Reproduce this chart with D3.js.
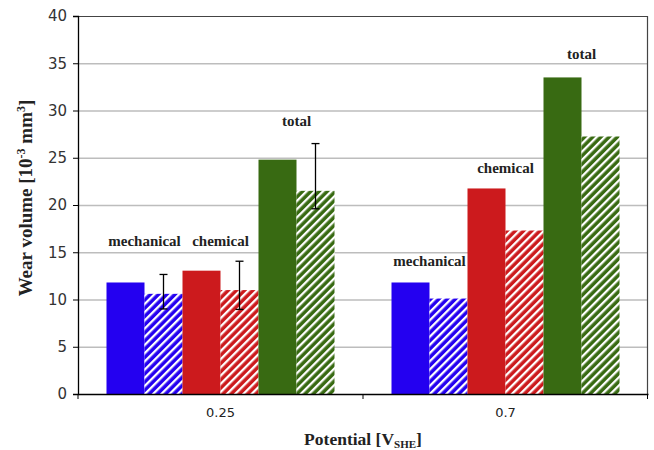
<!DOCTYPE html>
<html>
<head>
<meta charset="utf-8">
<script src="https://cdn.jsdelivr.net/npm/d3@7/dist/d3.min.js"></script>
<style>
  html, body { margin: 0; padding: 0; background: #fff; }
  svg { display: block; }
</style>
</head>
<body>
<svg id="chart" width="654" height="450"></svg>
<script>
// ---- data ----
const categories = ["0.25", "0.7"];
const series = ["mechSolid", "mechHatched", "chemSolid", "chemHatched", "totalSolid", "totalHatched"];
const seriesColor = ["#2400f0", "#2400f0", "#cc1a1d", "#cc1a1d", "#386a12", "#386a12"];
const seriesHatched = [false, true, false, true, false, true];
const values025 = [11.8, 10.6, 13.05, 11.0, 24.8, 21.5];
const values07 = [11.8, 10.1, 21.75, 17.3, 33.5, 27.25];
// error bars (only for 0.25 hatched bars): [series index, low, high]
const errSeries = [1, 3, 5];
const errLow = [9.0, 8.95, 19.6];
const errHigh = [12.65, 14.05, 26.5];
const yTicks = [0, 5, 10, 15, 20, 25, 30, 35, 40];
// group labels: text, category, left series index of the pair, y (in data units)
const labelText = ["mechanical", "chemical", "total", "mechanical", "chemical", "total"];
const labelCat = ["0.25", "0.25", "0.25", "0.7", "0.7", "0.7"];
const labelSeries = [0, 2, 4, 0, 2, 4];
const labelY = [15.7, 15.7, 28.4, 13.5, 23.4, 35.4];

const valuesByCat = { "0.25": values025, "0.7": values07 };

// ---- layout ----
const svg = d3.select("#chart");
const margin = { left: 78, right: 6, top: 16, bottom: 56 };
const W = 654, H = 450;
const x0 = margin.left, x1 = W - margin.right;
const yTop = margin.top, yBot = H - margin.bottom;

const x = d3.scaleBand().domain(categories).range([x0, x1]).paddingInner(0).paddingOuter(0);
const xs = d3.scaleBand().domain(series).range([0, x.bandwidth()]).paddingInner(0).paddingOuter(0.75);
const y = d3.scaleLinear().domain([0, 40]).range([yBot, yTop]);

// hatch patterns
const defs = svg.append("defs");
series.forEach((s, i) => {
  if (!seriesHatched[i]) return;
  const p = defs.append("pattern")
    .attr("id", "hatch" + i)
    .attr("patternUnits", "userSpaceOnUse")
    .attr("width", 5.8).attr("height", 5.8)
    .attr("patternTransform", "rotate(45)");
  p.append("rect").attr("width", 5.8).attr("height", 5.8).attr("fill", seriesColor[i]);
  p.append("rect").attr("x", 0).attr("width", 2.3).attr("height", 5.8).attr("fill", "#fff");
});

// grid lines
svg.append("g").selectAll("line").data(yTicks.filter(t => t > 0 && t < 40)).join("line")
  .attr("x1", x0).attr("x2", x1)
  .attr("y1", d => y(d) + 0.5).attr("y2", d => y(d) + 0.5)
  .attr("stroke", "#bdbdbd").attr("stroke-width", 1.5);

// plot border (top/right)
svg.append("path")
  .attr("d", `M${x0},${yTop + 0.5}H${x1 - 0.5}V${yBot}`)
  .attr("fill", "none").attr("stroke", "#444").attr("stroke-width", 1.2);

// bars
const groups = svg.append("g").selectAll("g").data(categories).join("g")
  .attr("transform", d => `translate(${x(d)},0)`);
groups.selectAll("rect").data(c => valuesByCat[c].map((v, i) => ({ v, i }))).join("rect")
  .attr("x", d => xs(series[d.i]))
  .attr("width", xs.bandwidth())
  .attr("y", d => y(d.v))
  .attr("height", d => y(0) - y(d.v))
  .attr("fill", d => seriesHatched[d.i] ? `url(#hatch${d.i})` : seriesColor[d.i]);

// error bars (category 0.25)
const eg = svg.append("g").attr("stroke", "#000").attr("stroke-width", 1.3);
errSeries.forEach((si, k) => {
  const cx = x("0.25") + xs(series[si]) + xs.bandwidth() / 2;
  eg.append("line").attr("x1", cx).attr("x2", cx).attr("y1", y(errLow[k])).attr("y2", y(errHigh[k]));
  eg.append("line").attr("x1", cx - 4).attr("x2", cx + 4).attr("y1", y(errLow[k])).attr("y2", y(errLow[k]));
  eg.append("line").attr("x1", cx - 4).attr("x2", cx + 4).attr("y1", y(errHigh[k])).attr("y2", y(errHigh[k]));
});

// group labels
svg.append("g").selectAll("text").data(labelText).join("text")
  .attr("x", (d, i) => x(labelCat[i]) + xs(series[labelSeries[i] + 1]))
  .attr("y", (d, i) => y(labelY[i]))
  .attr("text-anchor", "middle")
  .attr("font-family", "'Liberation Serif', serif")
  .attr("font-weight", "bold")
  .attr("font-size", 15)
  .attr("fill", "#222")
  .text(d => d);

// y axis
const yAxis = svg.append("g").attr("transform", `translate(${x0},0)`)
  .call(d3.axisLeft(y).tickValues(yTicks).tickSize(5).tickPadding(6));
yAxis.select(".domain").attr("stroke", "#000").attr("stroke-width", 1.3);
yAxis.selectAll(".tick line").attr("stroke", "#000");
yAxis.selectAll(".tick text").attr("font-family", "'DejaVu Sans', sans-serif").attr("font-size", 15).attr("fill", "#333");

// x axis
const xAxis = svg.append("g").attr("transform", `translate(0,${yBot})`)
  .call(d3.axisBottom(x).tickSize(0).tickPadding(14));
xAxis.select(".domain").attr("stroke", "#000").attr("stroke-width", 1.5);
xAxis.selectAll(".tick text").attr("font-family", "'DejaVu Sans', sans-serif").attr("font-size", 13).attr("fill", "#222");
// category boundary ticks
svg.append("g").selectAll("line").data([x0, x(categories[1]), x1 - 0.5]).join("line")
  .attr("x1", d => d).attr("x2", d => d).attr("y1", yBot).attr("y2", yBot + 5)
  .attr("stroke", "#000").attr("stroke-width", 1);

// axis titles
const yt = svg.append("text")
  .attr("transform", `translate(32,${(yTop + yBot) / 2 - 7}) rotate(-90)`)
  .attr("text-anchor", "middle")
  .attr("font-family", "'Liberation Serif', serif")
  .attr("font-weight", "bold").attr("font-size", 19).attr("fill", "#222");
yt.append("tspan").text("Wear volume [10");
yt.append("tspan").attr("font-size", 12).attr("dy", -7).text("-3");
yt.append("tspan").attr("dy", 7).text(" mm");
yt.append("tspan").attr("font-size", 12).attr("dy", -7).text("3");
yt.append("tspan").attr("dy", 7).text("]");

const xt = svg.append("text")
  .attr("x", (x0 + x1) / 2).attr("y", 445)
  .attr("text-anchor", "middle")
  .attr("font-family", "'Liberation Serif', serif")
  .attr("font-weight", "bold").attr("font-size", 17.5).attr("fill", "#222");
xt.append("tspan").text("Potential [V");
xt.append("tspan").attr("font-size", 11).attr("dy", 3).text("SHE");
xt.append("tspan").attr("dy", -3).text("]");
</script>
</body>
</html>
